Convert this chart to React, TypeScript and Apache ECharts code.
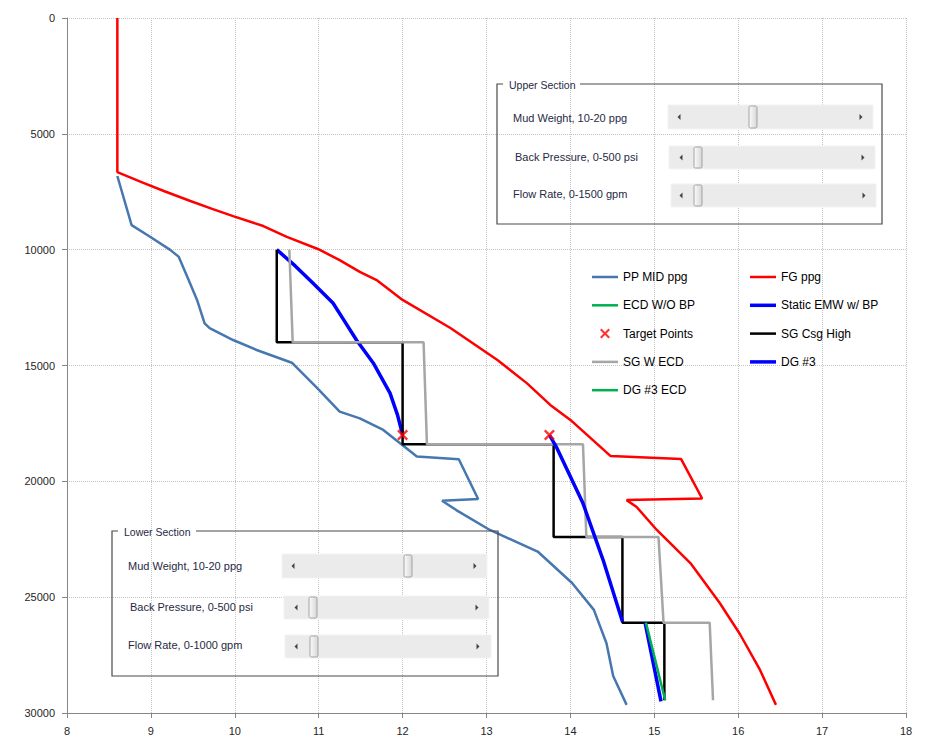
import React, { useEffect, useRef } from "react";
import * as echarts from "echarts";

// ---- Data (x = ppg, depth = ft) ----
const ppX = [8.6, 8.77, 8.99, 9.23, 9.33, 9.45, 9.55, 9.64, 9.7, 9.98, 10.26, 10.68, 10.98, 11.25, 11.49, 11.77, 11.97, 12.17, 12.67, 12.9, 12.47, 12.64, 13.04, 13.61, 14.02, 14.28, 14.43, 14.51, 14.67];
const ppDepth = [6820, 8940, 9440, 10010, 10300, 11310, 12170, 13180, 13390, 13900, 14330, 14880, 15970, 16990, 17280, 17780, 18360, 18930, 19050, 20760, 20840, 21240, 22100, 23030, 24390, 25550, 26990, 28400, 29650];

const fgX = [8.6, 8.6, 8.91, 9.17, 9.47, 9.73, 9.98, 10.34, 10.62, 10.99, 11.25, 11.49, 11.69, 12.0, 12.57, 13.13, 13.48, 13.76, 14.0, 14.48, 15.32, 15.57, 14.67, 14.79, 15.03, 15.43, 15.78, 16.02, 16.26, 16.45];
const fgDepth = [0, 6650, 7120, 7490, 7900, 8240, 8550, 8980, 9450, 9970, 10450, 10960, 11310, 12170, 13380, 14760, 15760, 16700, 17350, 18910, 19040, 20740, 20810, 21110, 22100, 23530, 25250, 26590, 28140, 29650];

const ecdWoBpX: number[] = [];
const ecdWoBpDepth: number[] = [];

const staticX = [10.5, 10.72, 10.93, 11.17, 11.3, 11.45, 11.65, 11.85, 11.94, 12.0];
const staticDepth = [10000, 10700, 11440, 12300, 13040, 13900, 14890, 16190, 17140, 18000];

const targetX = [12.0, 13.75];
const targetDepth = [18000, 18000];

const csgX = [10.5, 10.5, 12.0, 12.0, 13.8, 13.8, 14.62, 14.62, 15.12, 15.12];
const csgDepth = [10000, 14000, 14000, 18400, 18400, 22400, 22400, 26100, 26100, 29450];

const sgEcdX = [10.65, 10.69, 12.25, 12.29, 14.15, 14.19, 15.05, 15.11, 15.66, 15.7];
const sgEcdDepth = [10000, 14000, 14000, 18400, 18400, 22400, 22400, 26100, 26100, 29450];

const dg3aX = [13.75, 13.84, 14.15, 14.39, 14.62];
const dg3aDepth = [18000, 18570, 20950, 23400, 26050];
const dg3bX = [14.89, 15.08];
const dg3bDepth = [26100, 29500];

const dg3EcdX = [14.9, 15.13];
const dg3EcdDepth = [26100, 29450];

const xTicks = { min: 8, max: 18, step: 1 };
const yTicks = { min: 0, max: 30000, step: 5000 };

const X_PATH = "path://M0,1.5L1.5,0L5,3.5L8.5,0L10,1.5L6.5,5L10,8.5L8.5,10L5,6.5L1.5,10L0,8.5L3.5,5Z";
const LINE_ICON = "path://M0,0H26V2.5H0Z";
const THICK_ICON = "path://M0,0H26V3.5H0Z";

const legendLeftItems = [
  { name: "PP MID ppg", icon: LINE_ICON },
  { name: "ECD W/O BP", icon: LINE_ICON },
  { name: "Target Points", icon: X_PATH },
  { name: "SG W ECD", icon: LINE_ICON },
  { name: "DG #3 ECD", icon: LINE_ICON },
];
const legendRightItems = [
  { name: "FG ppg", icon: LINE_ICON },
  { name: "Static EMW w/ BP", icon: THICK_ICON },
  { name: "SG Csg High", icon: LINE_ICON },
  { name: "DG #3", icon: THICK_ICON },
];

const pts = (xs: number[], ds: number[]) => xs.map((x, i) => [x, ds[i]]);

const FONT = '"Liberation Sans", Arial, sans-serif';
const BOX_TEXT = "#1f2a44";

function boxOutline(x0: number, y0: number, x1: number, y1: number, gapStart: number, gapEnd: number, title: string, titleX: number) {
  return [
    {
      type: "polyline",
      silent: true,
      shape: { points: [[gapEnd, y0], [x1, y0], [x1, y1], [x0, y1], [x0, y0], [gapStart, y0]] },
      style: { fill: "none", stroke: "#4a4a4a", lineWidth: 1.2 },
      z: 10,
    },
    {
      type: "text",
      silent: true,
      style: { text: title, x: titleX, y: y0 + 1, font: `10.5px ${FONT}`, fill: BOX_TEXT, align: "left", verticalAlign: "middle" },
      z: 11,
    },
  ];
}

function label(text: string, x: number, y: number) {
  return {
    type: "text",
    silent: true,
    style: { text, x, y, font: `11px ${FONT}`, fill: BOX_TEXT, align: "left", verticalAlign: "middle" },
    z: 11,
  };
}

function scrollbar(x0: number, y0: number, x1: number, y1: number, thumbX: number, la: number, ra: number) {
  const cy = (y0 + y1) / 2;
  return [
    {
      type: "rect",
      silent: true,
      shape: { x: x0, y: y0, width: x1 - x0, height: y1 - y0 },
      style: { fill: "#ebebeb", stroke: "#f3f3f3", lineWidth: 1 },
      z: 10,
    },
    {
      type: "rect",
      silent: true,
      shape: { x: thumbX, y: y0 + 1, width: 8, height: y1 - y0 - 2, r: 1.5 },
      style: {
        fill: new echarts.graphic.LinearGradient(0, 0, 1, 0, [
          { offset: 0, color: "#fbfbfb" },
          { offset: 1, color: "#d6d6d6" },
        ]),
        stroke: "#a3a3a3",
        lineWidth: 1,
      },
      z: 11,
    },
    {
      type: "polygon",
      silent: true,
      shape: { points: [[la + 1.5, cy - 3], [la - 1.5, cy], [la + 1.5, cy + 3]] },
      style: { fill: "#444" },
      z: 11,
    },
    {
      type: "polygon",
      silent: true,
      shape: { points: [[ra - 1.5, cy - 3], [ra + 1.5, cy], [ra - 1.5, cy + 3]] },
      style: { fill: "#444" },
      z: 11,
    },
  ];
}

export default function App() {
  const ref = useRef<HTMLDivElement>(null);

  useEffect(() => {
    if (!ref.current) return;
    const chart = echarts.init(ref.current, undefined, { renderer: "svg" });

    const legendCommon = {
      orient: "vertical",
      top: 270,
      padding: 0,
      itemWidth: 26,
      itemHeight: 10,
      itemGap: 14.3,
      selectedMode: false,
      textStyle: { fontSize: 12, fontFamily: FONT, color: "#000", lineHeight: 14 },
    };

    const lineBase = { type: "line", symbol: "none", showSymbol: false, animation: false, emphasis: { disabled: true } };

    const option: any = {
      animation: false,
      backgroundColor: "#ffffff",
      grid: { left: 67, right: 23, top: 18, bottom: 37, containLabel: false },
      xAxis: {
        type: "value",
        min: xTicks.min,
        max: xTicks.max,
        interval: xTicks.step,
        position: "bottom",
        axisLine: { onZero: false, lineStyle: { color: "#868686", width: 1 } },
        axisTick: { show: true, inside: false, length: 5, lineStyle: { color: "#868686" } },
        axisLabel: { margin: 12, fontSize: 11, fontFamily: FONT, color: "#262626" },
        splitLine: { show: true, lineStyle: { type: "dotted", color: "#c4c4c4", width: 1 } },
      },
      yAxis: {
        type: "value",
        inverse: true,
        min: yTicks.min,
        max: yTicks.max,
        interval: yTicks.step,
        axisLine: { show: true, onZero: false, lineStyle: { color: "#868686", width: 1 } },
        axisTick: { show: true, inside: false, length: 5, lineStyle: { color: "#868686" } },
        axisLabel: { margin: 12, fontSize: 11, fontFamily: FONT, color: "#262626", formatter: (v: number) => String(v) },
        splitLine: { show: true, lineStyle: { type: "dotted", color: "#c4c4c4", width: 1 } },
      },
      legend: [
        { ...legendCommon, left: 592, data: legendLeftItems },
        { ...legendCommon, left: 750, data: legendRightItems },
      ],
      series: [
        { ...lineBase, name: "PP MID ppg", data: pts(ppX, ppDepth), lineStyle: { color: "#4677AF", width: 2.5 }, itemStyle: { color: "#4677AF" } },
        { ...lineBase, name: "FG ppg", data: pts(fgX, fgDepth), lineStyle: { color: "#FF0000", width: 2.5 }, itemStyle: { color: "#FF0000" } },
        { ...lineBase, name: "ECD W/O BP", data: pts(ecdWoBpX, ecdWoBpDepth), lineStyle: { color: "#00B050", width: 2.5 }, itemStyle: { color: "#00B050" } },
        { ...lineBase, name: "Static EMW w/ BP", data: pts(staticX, staticDepth), lineStyle: { color: "#0000FF", width: 3.5 }, itemStyle: { color: "#0000FF" } },
        { ...lineBase, name: "SG Csg High", data: pts(csgX, csgDepth), lineStyle: { color: "#000000", width: 2.5 }, itemStyle: { color: "#000000" } },
        { ...lineBase, name: "SG W ECD", data: pts(sgEcdX, sgEcdDepth), lineStyle: { color: "#A6A6A6", width: 2.5 }, itemStyle: { color: "#A6A6A6" } },
        { ...lineBase, name: "DG #3", data: pts(dg3aX, dg3aDepth), lineStyle: { color: "#0000FF", width: 3.5 }, itemStyle: { color: "#0000FF" } },
        { ...lineBase, name: "DG #3", data: pts(dg3bX, dg3bDepth), lineStyle: { color: "#0000FF", width: 3.5 }, itemStyle: { color: "#0000FF" } },
        { ...lineBase, name: "DG #3 ECD", data: pts(dg3EcdX, dg3EcdDepth), lineStyle: { color: "#00B050", width: 2.5 }, itemStyle: { color: "#00B050" } },
        {
          name: "Target Points",
          type: "scatter",
          data: pts(targetX, targetDepth),
          symbol: X_PATH,
          symbolSize: 11,
          itemStyle: { color: "#FF0000" },
          z: 5,
          emphasis: { disabled: true },
        },
      ],
      graphic: [
        ...boxOutline(497, 84, 882, 224, 503, 580, "Upper Section", 509),
        label("Mud Weight, 10-20 ppg", 513, 117.5),
        ...scrollbar(668, 105, 873, 129, 749, 679, 861),
        label("Back Pressure, 0-500 psi", 515, 156.5),
        ...scrollbar(669, 146, 875, 169, 694, 681, 863),
        label("Flow Rate, 0-1500 gpm", 513, 193.5),
        ...scrollbar(671, 184, 876, 207, 694, 681, 864),

        ...boxOutline(112, 531, 498, 676, 118, 196, "Lower Section", 124),
        label("Mud Weight, 10-20 ppg", 128, 566),
        ...scrollbar(282, 554, 487, 578, 404, 293, 475),
        label("Back Pressure, 0-500 psi", 130, 607),
        ...scrollbar(284, 596, 489, 619, 309, 296, 477),
        label("Flow Rate, 0-1000 gpm", 128, 644.5),
        ...scrollbar(285, 635, 491, 658, 310, 296, 478),
      ],
    };

    chart.setOption(option);
    return () => chart.dispose();
  }, []);

  return <div ref={ref} style={{ position: "absolute", left: 0, top: 0, width: 929, height: 750 }} />;
}
